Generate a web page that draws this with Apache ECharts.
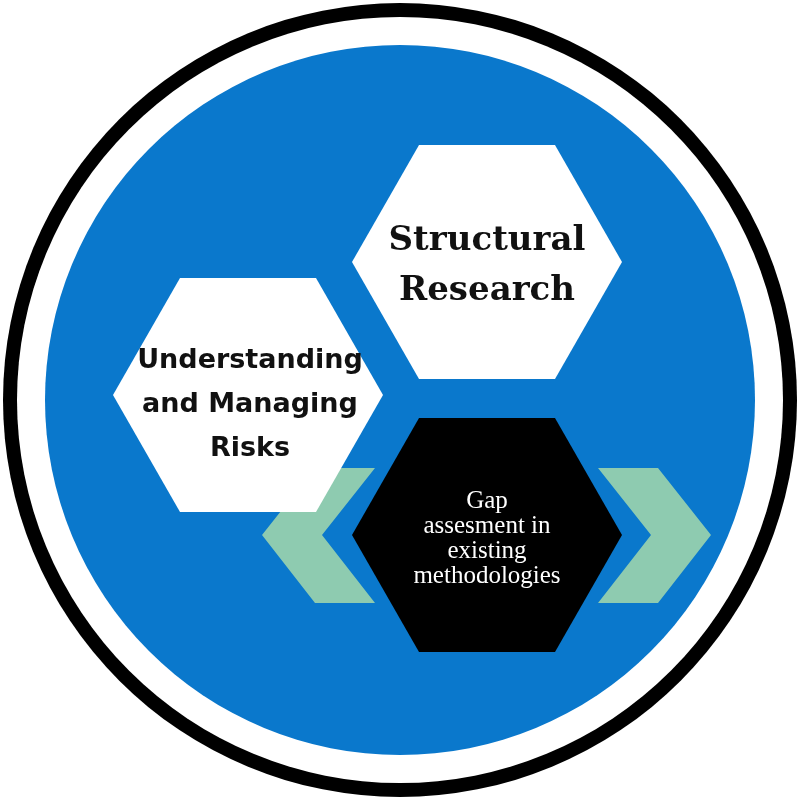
<!DOCTYPE html>
<html style="height: 100%">
  <head>
    <meta charset="utf-8" />
  </head>
  <body style="height: 100%; margin: 0; background: #fff">
    <div id="container" style="width: 800px; height: 800px"></div>
    <script src="https://cdn.jsdelivr.net/npm/echarts@6/dist/echarts.min.js"></script>
    <script>
      // rings: [cx, cy, radius, colour]
      var rings = [
        [400, 400, 397, "#000000"],
        [400, 400, 383, "#ffffff"],
        [400, 400, 355, "#0a78cc"]
      ];
      // chevrons: [cx, cy, direction]
      var chevrons = [
        [318, 535, -1],
        [655, 535, 1]
      ];
      // hexagons: [cx, cy, fill, label]
      var hexagons = [
        [487, 262, "#ffffff", "Structural\nResearch"],
        [248, 395, "#ffffff", "Understanding\nand Managing\nRisks"],
        [487, 535, "#000000", "Gap\nassesment in\nexisting\nmethodologies"]
      ];
      var hexFonts = [
        { fontFamily: "DejaVu Serif", fontWeight: "bold", fontSize: 34, lineHeight: 50, fill: "#111" },
        { fontFamily: "DejaVu Sans", fontWeight: "bold", fontSize: 27, lineHeight: 44, fill: "#111" },
        { fontFamily: "Liberation Serif", fontSize: 25, lineHeight: 25, fill: "#fff" }
      ];

      var chart = echarts.init(document.getElementById("container"));
      var axis = { type: "value", min: 0, max: 800, show: false };

      function ringItem(params, api) {
        var c = api.coord([api.value(0), api.value(1)]);
        var r = api.size([api.value(2), 0])[0];
        return { type: "circle", shape: { cx: c[0], cy: c[1], r: r }, style: { fill: rings[params.dataIndex][3] } };
      }
      function chevronItem(params, api) {
        var c = api.coord([api.value(0), api.value(1)]);
        var d = api.value(2);
        var pts = [[-56, 0], [-3, -67], [57, -67], [4, 0], [57, 68], [-3, 68]];
        return {
          type: "polygon",
          shape: { points: pts.map(function (p) { return [c[0] + d * -p[0], c[1] + p[1]]; }) },
          style: { fill: "#8ecbb0" }
        };
      }
      function hexItem(params, api) {
        var c = api.coord([api.value(0), api.value(1)]);
        var h = hexagons[params.dataIndex];
        var pts = [[-135, 0], [-68, -117], [68, -117], [135, 0], [68, 117], [-68, 117]];
        return {
          type: "group",
          children: [
            { type: "polygon", shape: { points: pts.map(function (p) { return [c[0] + p[0], c[1] + p[1]]; }) }, style: { fill: h[2] } },
            {
              type: "text",
              x: c[0] - (params.dataIndex === 1 ? -2 : 0),
              y: c[1] + (params.dataIndex === 1 ? 10 : 4),
              style: Object.assign({ text: h[3], align: "center", verticalAlign: "middle" }, hexFonts[params.dataIndex])
            }
          ]
        };
      }

      chart.setOption({
        animation: false,
        grid: { left: 0, right: 0, top: 0, bottom: 0 },
        xAxis: axis,
        yAxis: Object.assign({ inverse: true }, axis),
        series: [
          { type: "custom", renderItem: ringItem, data: rings.map(function (r) { return r.slice(0, 3); }) },
          { type: "custom", renderItem: chevronItem, data: chevrons },
          { type: "custom", renderItem: hexItem, data: hexagons.map(function (h) { return h.slice(0, 2); }) }
        ]
      });
    </script>
  </body>
</html>
